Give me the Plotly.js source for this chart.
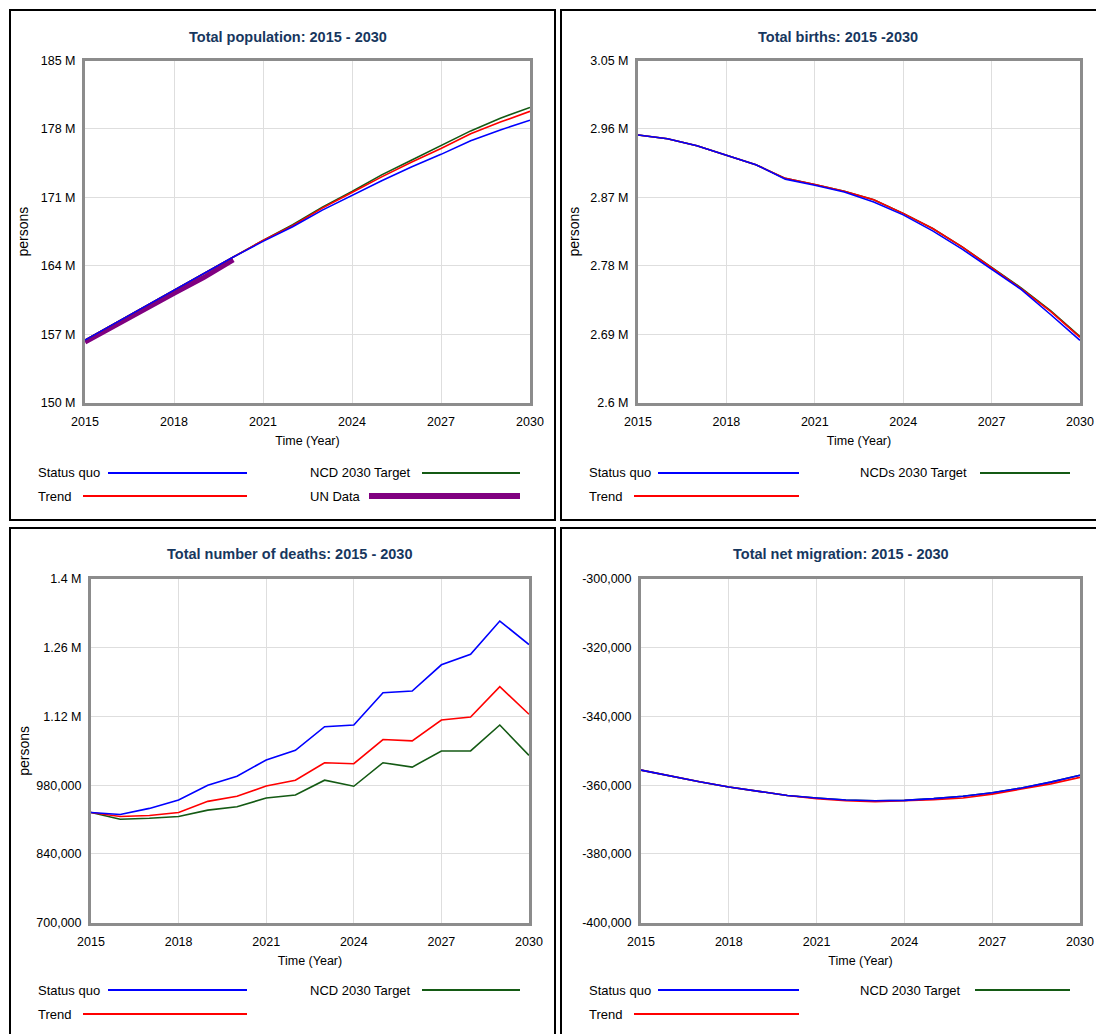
<!DOCTYPE html>
<html>
<head>
<meta charset="utf-8">
<script src="https://cdn.plot.ly/plotly-3.0.1.min.js"></script>
<style>
  html, body { margin: 0; padding: 0; background: #ffffff; }
  #chart { width: 1096px; height: 1034px; }
</style>
</head>
<body>
<div id="chart"></div>
<script>
// ---------------- DATA ----------------
const years = [2015, 2016, 2017, 2018, 2019, 2020, 2021, 2022, 2023, 2024, 2025, 2026, 2027, 2028, 2029, 2030];
const unYears = [2015, 2016, 2017, 2018, 2019, 2020];

// Total population (millions)
const popStatusQuo = [156.4, 158.1, 159.8, 161.5, 163.2, 164.9, 166.5, 168.0, 169.7, 171.2, 172.7, 174.1, 175.4, 176.8, 177.9, 178.9];
const popTrend     = [156.4, 158.1, 159.8, 161.5, 163.2, 164.9, 166.6, 168.1, 169.9, 171.5, 173.1, 174.6, 176.0, 177.5, 178.7, 179.8];
const popNCD       = [156.4, 158.1, 159.8, 161.5, 163.2, 164.9, 166.6, 168.2, 170.0, 171.6, 173.3, 174.8, 176.3, 177.8, 179.1, 180.2];
const popUN        = [156.2, 157.9, 159.6, 161.2, 162.8, 164.6];

// Total births (millions)
const birthStatusQuo = [2.952, 2.947, 2.938, 2.926, 2.913, 2.894, 2.886, 2.877, 2.864, 2.847, 2.826, 2.802, 2.776, 2.749, 2.716, 2.682];
const birthTrend     = [2.952, 2.947, 2.938, 2.926, 2.913, 2.895, 2.887, 2.878, 2.867, 2.849, 2.829, 2.805, 2.778, 2.750, 2.720, 2.686];
const birthNCD       = [2.952, 2.947, 2.938, 2.926, 2.913, 2.895, 2.887, 2.878, 2.867, 2.849, 2.829, 2.805, 2.778, 2.751, 2.721, 2.687];

// Total number of deaths (persons)
const deathStatusQuo = [924500, 920400, 932800, 949800, 980000, 998500, 1031400, 1051200, 1099200, 1102600, 1168400, 1171900, 1225300, 1246600, 1314400, 1266500];
const deathTrend     = [924500, 916300, 918300, 924500, 947100, 957400, 978500, 990200, 1025800, 1023800, 1073100, 1070400, 1112700, 1118900, 1180600, 1124500];
const deathNCD       = [924500, 910700, 912800, 916300, 929200, 936100, 953900, 960100, 990200, 977900, 1025800, 1016900, 1049800, 1049800, 1102600, 1040800];

// Total net migration (persons)
const migStatusQuo = [-355600, -357400, -359000, -360500, -361800, -363000, -363700, -364300, -364500, -364400, -363900, -363200, -362200, -360800, -359100, -357100];
const migTrend     = [-355600, -357400, -359000, -360500, -361800, -363000, -363900, -364500, -364800, -364600, -364200, -363700, -362600, -361100, -359600, -357700];
const migNCD       = [-355600, -357400, -359000, -360500, -361800, -363000, -363700, -364300, -364500, -364400, -363900, -363200, -362200, -360800, -359100, -357100];

// Tick labels
const xTicks = [2015, 2018, 2021, 2024, 2027, 2030];
const popTickVals = [150, 157, 164, 171, 178, 185];
const popTickText = ['150 M', '157 M', '164 M', '171 M', '178 M', '185 M'];
const birthTickVals = [2.6, 2.69, 2.78, 2.87, 2.96, 3.05];
const birthTickText = ['2.6 M', '2.69 M', '2.78 M', '2.87 M', '2.96 M', '3.05 M'];
const deathTickVals = [700000, 840000, 980000, 1120000, 1260000, 1400000];
const deathTickText = ['700,000', '840,000', '980,000', '1.12 M', '1.26 M', '1.4 M'];
const migTickVals = [-400000, -380000, -360000, -340000, -320000, -300000];
const migTickText = ['-400,000', '-380,000', '-360,000', '-340,000', '-320,000', '-300,000'];

// Texts
const panelTitles = ['Total population: 2015 - 2030', 'Total births: 2015 -2030', 'Total number of deaths: 2015 - 2030', 'Total net migration: 2015 - 2030'];
const xTitle = 'Time (Year)';
const yTitle = 'persons';
const namesPop = ['Status quo', 'Trend', 'NCD 2030 Target', 'UN Data'];
const namesBirth = ['Status quo', 'Trend', 'NCDs 2030 Target'];
const namesDeath = ['Status quo', 'Trend', 'NCD 2030 Target'];
const namesMig = ['Status quo', 'Trend', 'NCD 2030 Target'];

// ---------------- STYLE ----------------
const W = 1096, H = 1034;
const FONT = "'Liberation Sans', Arial, sans-serif";
const C = { sq: '#0000ff', tr: '#ff0000', ncd: '#145a14', un: '#800080' };
const TITLE_COLOR = '#17375e';
const fx = x => x / W;
const fy = y => 1 - y / H;

function line(x, y, name, color, axis, width) {
  return {
    type: 'scatter', mode: 'lines', x: x, y: y, name: name,
    xaxis: 'x' + axis, yaxis: 'y' + axis,
    line: { color: color, width: width || 1.6 },
    hoverinfo: 'x+y+name'
  };
}

const traces = [
  line(unYears, popUN, namesPop[3], C.un, '', 5),
  line(years, popNCD, namesPop[2], C.ncd, ''),
  line(years, popTrend, namesPop[1], C.tr, ''),
  line(years, popStatusQuo, namesPop[0], C.sq, ''),

  line(years, birthNCD, namesBirth[2], C.ncd, '2'),
  line(years, birthTrend, namesBirth[1], C.tr, '2'),
  line(years, birthStatusQuo, namesBirth[0], C.sq, '2'),

  line(years, deathNCD, namesDeath[2], C.ncd, '3'),
  line(years, deathTrend, namesDeath[1], C.tr, '3'),
  line(years, deathStatusQuo, namesDeath[0], C.sq, '3'),

  line(years, migNCD, namesMig[2], C.ncd, '4'),
  line(years, migTrend, namesMig[1], C.tr, '4'),
  line(years, migStatusQuo, namesMig[0], C.sq, '4')
];

// Plot-area positions in pixels [left, right], [top, bottom]
const panels = [
  { x: [85, 530], y: [60.5, 402.7] },
  { x: [638, 1080], y: [60.5, 402.7] },
  { x: [91, 529], y: [579, 922.7] },
  { x: [641, 1080], y: [579, 922.7] }
];

function xAxis(i) {
  const p = panels[i];
  return {
    domain: [fx(p.x[0]), fx(p.x[1])],
    anchor: 'y' + (i ? i + 1 : ''),
    range: [2015, 2030],
    tickmode: 'array', tickvals: xTicks, ticktext: xTicks.map(String),
    showgrid: true, gridcolor: '#dedede', gridwidth: 1,
    showline: true, linecolor: '#8c8c8c', linewidth: 3, mirror: true,
    ticks: '', ticklabelstandoff: 5, ticklabeloverflow: 'allow', zeroline: false, fixedrange: true,
    tickfont: { family: FONT, size: 12.5, color: '#000000' },
    title: { text: xTitle, standoff: 9, font: { family: FONT, size: 12.5, color: '#000000' } }
  };
}
function yAxis(i, range, vals, text, standoff) {
  const ax = {
    domain: [fy(panels[i].y[1]), fy(panels[i].y[0])],
    anchor: 'x' + (i ? i + 1 : ''),
    range: range,
    tickmode: 'array', tickvals: vals, ticktext: text,
    showgrid: true, gridcolor: '#dedede', gridwidth: 1,
    showline: true, linecolor: '#8c8c8c', linewidth: 3, mirror: true,
    ticks: '', ticklabelstandoff: 4, zeroline: false, fixedrange: true,
    tickfont: { family: FONT, size: 12.5, color: '#000000' }
  };
  if (standoff !== null) {
    ax.title = { text: yTitle, standoff: standoff, font: { family: FONT, size: 14, color: '#000000' } };
  }
  return ax;
}

// Panel frames
const frames = [
  [10, 555, 10, 520],
  [561, 1110, 10, 520],
  [10, 555, 528, 1050],
  [561, 1110, 528, 1050]
];
const shapes = frames.map(f => ({
  type: 'rect', xref: 'paper', yref: 'paper',
  x0: fx(f[0]), x1: fx(f[1]), y0: fy(f[3]), y1: fy(f[2]),
  line: { color: '#000000', width: 2 }, fillcolor: 'rgba(0,0,0,0)', layer: 'below'
}));

// Titles
const titlePos = [[288, 37], [838, 37], [290, 554], [841, 554]];
const annotations = panelTitles.map((t, i) => ({
  text: '<b>' + t + '</b>', xref: 'paper', yref: 'paper',
  x: fx(titlePos[i][0]), y: fy(titlePos[i][1]), xanchor: 'center', yanchor: 'middle',
  showarrow: false, font: { family: FONT, size: 14.5, color: TITLE_COLOR }
}));

// Custom legends: [label, text x, y, line x0, line x1, color, width]
const legends = [
  [namesPop[0], 36, 473, 108, 247, C.sq, 2],
  [namesPop[1], 36, 496, 83, 247, C.tr, 2],
  [namesPop[2], 308, 473, 422, 520, C.ncd, 2],
  [namesPop[3], 308, 496, 369, 520, C.un, 6],
  [namesBirth[0], 587, 473, 658, 799, C.sq, 2],
  [namesBirth[1], 587, 496, 634, 799, C.tr, 2],
  [namesBirth[2], 858, 473, 980, 1070, C.ncd, 2],
  [namesDeath[0], 36, 990, 108, 247, C.sq, 2],
  [namesDeath[1], 36, 1014, 83, 247, C.tr, 2],
  [namesDeath[2], 308, 990, 422, 520, C.ncd, 2],
  [namesMig[0], 587, 990, 658, 799, C.sq, 2],
  [namesMig[1], 587, 1014, 634, 799, C.tr, 2],
  [namesMig[2], 858, 990, 975, 1070, C.ncd, 2]
];
legends.forEach(l => {
  annotations.push({
    text: l[0], xref: 'paper', yref: 'paper', x: fx(l[1]), y: fy(l[2]),
    xanchor: 'left', yanchor: 'middle', showarrow: false,
    font: { family: FONT, size: 13, color: '#000000' }
  });
  shapes.push({
    type: 'line', xref: 'paper', yref: 'paper',
    x0: fx(l[3]), x1: fx(l[4]), y0: fy(l[2]), y1: fy(l[2]),
    line: { color: l[5], width: l[6] }
  });
});

const layout = {
  width: W, height: H,
  margin: { l: 0, r: 0, t: 0, b: 0 },
  paper_bgcolor: '#ffffff', plot_bgcolor: '#ffffff',
  showlegend: false,
  xaxis: xAxis(0), xaxis2: xAxis(1), xaxis3: xAxis(2), xaxis4: xAxis(3),
  yaxis: yAxis(0, [150, 185], popTickVals, popTickText, 9),
  yaxis2: yAxis(1, [2.6, 3.05], birthTickVals, birthTickText, 8),
  yaxis3: yAxis(2, [700000, 1400000], deathTickVals, deathTickText, 4),
  yaxis4: yAxis(3, [-400000, -300000], migTickVals, migTickText, null),
  shapes: shapes,
  annotations: annotations
};

Plotly.newPlot('chart', traces, layout, { displayModeBar: false });
</script>
</body>
</html>
